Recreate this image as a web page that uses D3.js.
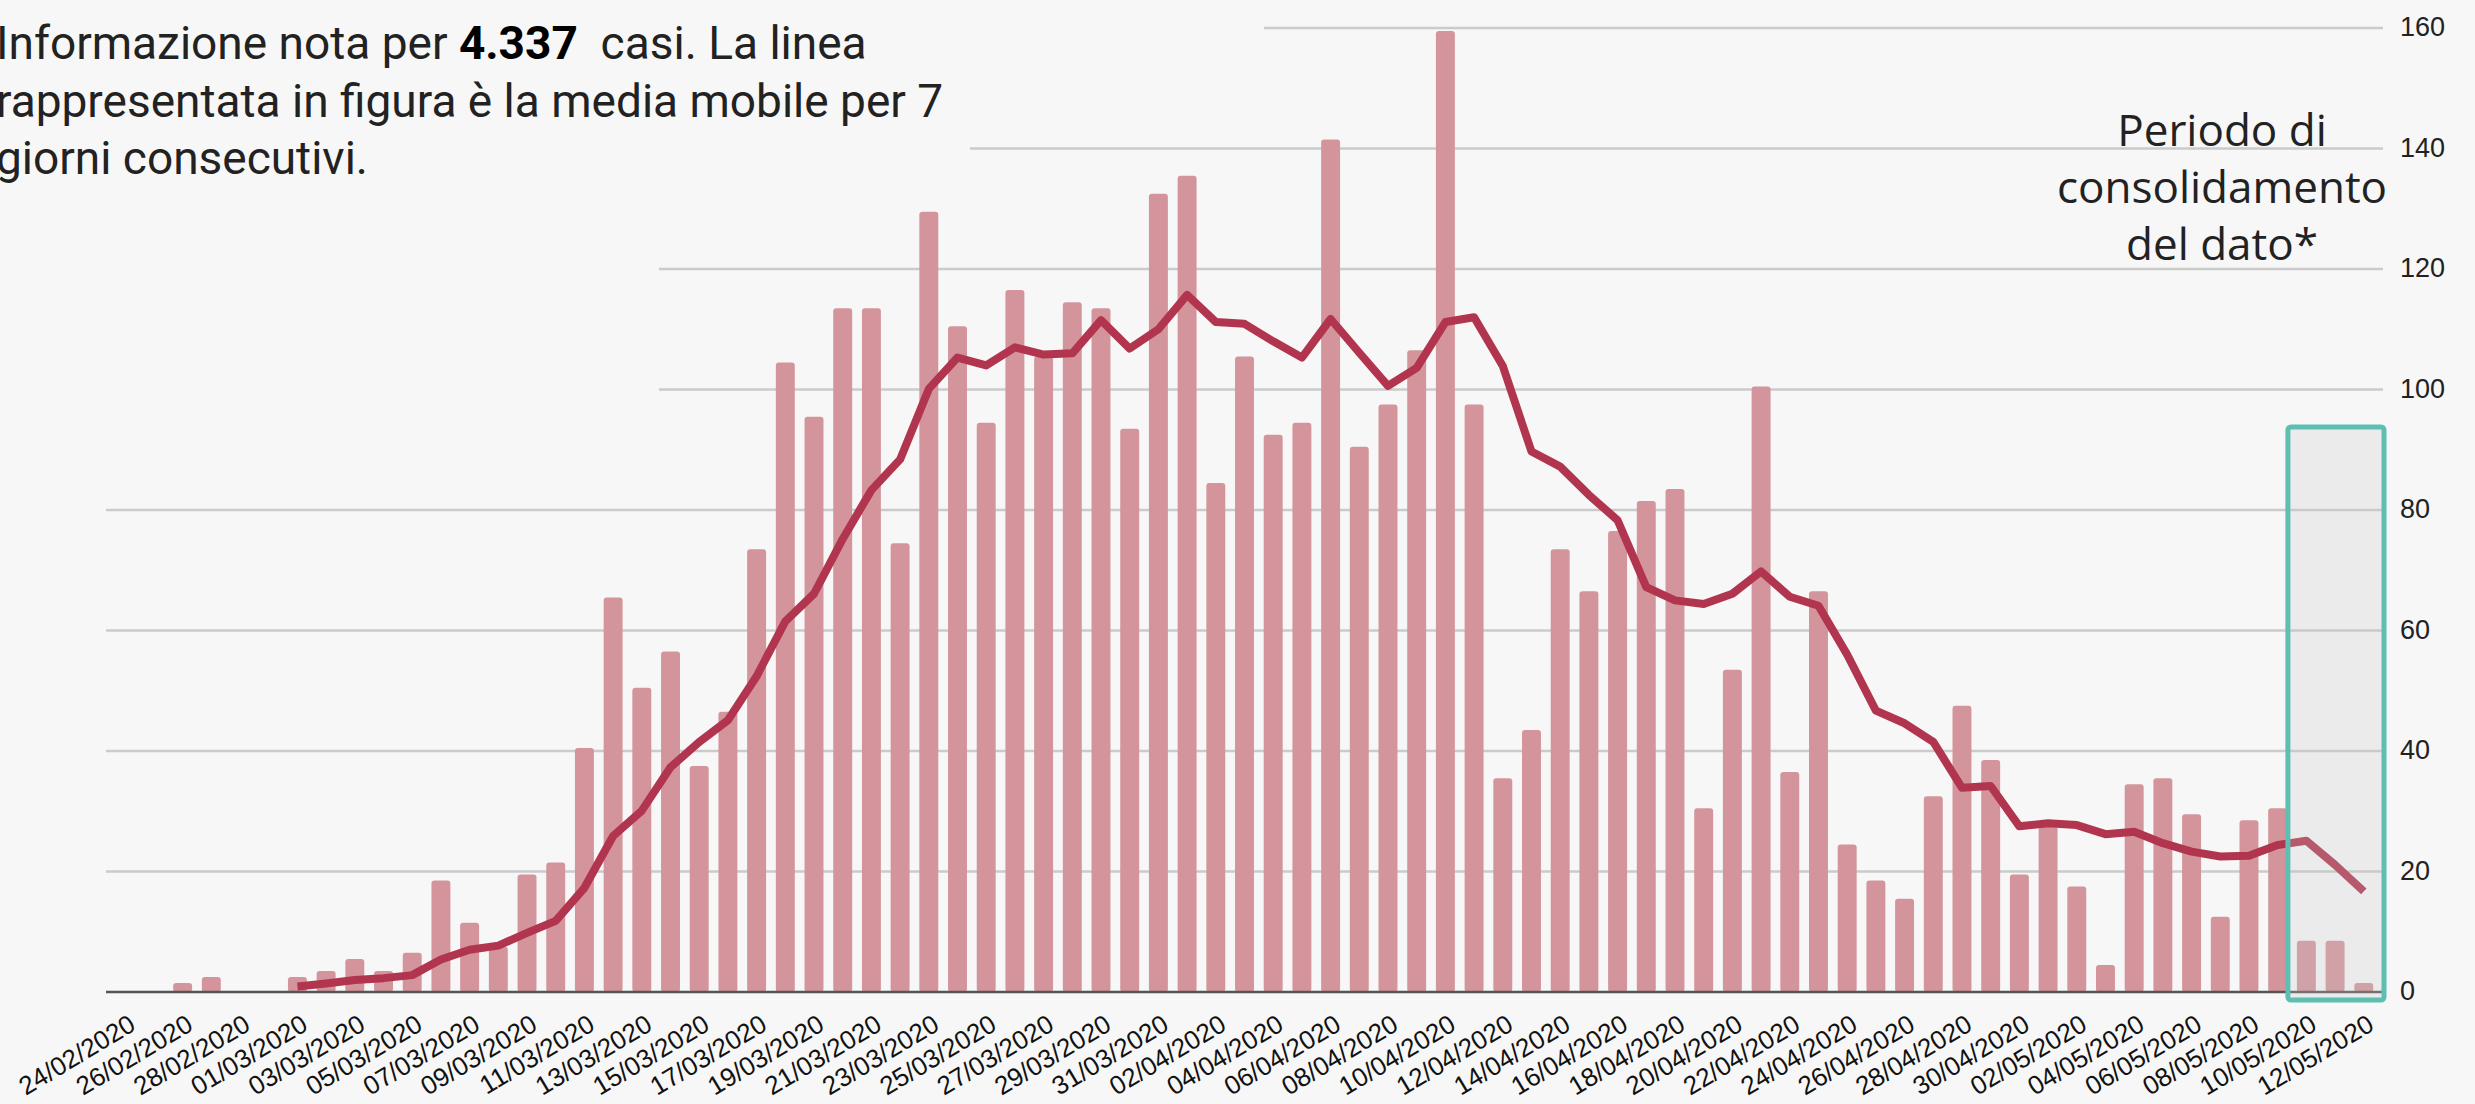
<!DOCTYPE html>
<meta charset="utf-8"/>
<head>
<script src="https://d3js.org/d3.v7.min.js"></script>
<style>
body { margin: 0; background: #f7f7f7; }
svg { display: block; background: #f7f7f7; }
.grid line { stroke: #cbcbcb; stroke-width: 2.5px; }
.mask { fill: #f7f7f7; }
.baseline { stroke: #555; stroke-width: 2.5px; }
.bar { fill: #d3959b; }
.avg { fill: none; stroke: #b2354f; stroke-width: 8px; stroke-linejoin: round; }
.box { fill: rgba(200, 200, 200, 0.25); stroke: #5cbfb1; stroke-width: 5px; }
.xlab { font-family: "Liberation Sans", Arial, sans-serif; font-size: 26px; fill: #111; }
.ylab { font-family: "Liberation Sans", Arial, sans-serif; font-size: 27px; fill: #222; }
.note { font-family: Roboto, sans-serif; font-size: 46px; fill: #222; }
.note .num { font-weight: bold; fill: #000; }
.cons { font-family: "Open Sans", sans-serif; font-size: 44px; fill: #222; }
</style>
</head>
<body>
<div id="chart"></div>
<script>

// casi giornalieri, 24/02/2020 -> 12/05/2020
var casi = [0, 0, 1, 2, 0, 0, 2, 3, 5, 3,
            6, 18, 11, 7, 19, 21, 40, 65, 50, 56,
            37, 46, 73, 104, 95, 113, 113, 74, 129, 110,
            94, 116, 105, 114, 113, 93, 132, 135, 84, 105,
            92, 94, 141, 90, 97, 106, 159, 97, 35, 43,
            73, 66, 76, 81, 83, 30, 53, 100, 36, 66,
            24, 18, 15, 32, 47, 38, 19, 27, 17, 4,
            34, 35, 29, 12, 28, 30, 8, 8, 1];

// media mobile 7 giorni, parte dal 01/03
var mediaMobile = [null, null, null, null, null, null, 0.9, 1.4, 2.0, 2.3,
                   2.8, 5.4, 7.0, 7.7, 9.8, 11.8, 17.3, 25.9, 30.1, 37.3,
                   41.5, 45.1, 52.4, 61.5, 66.1, 75.2, 83.3, 88.4, 100.1, 105.3,
                   104.0, 107.0, 105.8, 106.0, 111.5, 106.8, 110.0, 115.7, 111.2, 110.9,
                   108.0, 105.3, 111.7, 106.1, 100.6, 103.6, 111.2, 112.0, 103.9, 89.7,
                   87.2, 82.5, 78.3, 67.2, 65.0, 64.4, 66.1, 69.8, 65.6, 64.1,
                   56.0, 46.7, 44.6, 41.5, 33.9, 34.2, 27.5, 28.0, 27.7, 26.2,
                   26.6, 24.7, 23.3, 22.5, 22.6, 24.4, 25.1, 21.1, 16.7];

var giorni = d3.utcDay.range(Date.UTC(2020, 1, 24), Date.UTC(2020, 4, 13))
    .map(d3.utcFormat("%d/%m/%Y"));

var yTicks = [0, 20, 40, 60, 80, 100, 120, 140, 160];
var consolidamento = ["10/05/2020", "11/05/2020", "12/05/2020"];

var noteLines = [
  ["Informazione nota per ", "4.337", " \u00a0casi. La linea"],
  ["rappresentata in figura è la media mobile per 7"],
  ["giorni consecutivi."]
];
var consLines = ["Periodo di", "consolidamento", "del dato*"];

var outerWidth = 2475,
    outerHeight = 1104,
    plotLeft = 106, plotRight = 2383,
    plotTop = 28, plotBottom = 992;

var svg = d3.select("#chart").append("svg")
    .attr("width", outerWidth)
    .attr("height", outerHeight);

var x = d3.scaleBand()
    .domain(giorni)
    .range([plotLeft, plotRight])
    .padding(0.34);

var y = d3.scaleLinear()
    .domain([0, 160])
    .range([plotBottom, plotTop]);

// gridlines
svg.append("g").attr("class", "grid")
  .selectAll("line")
  .data(yTicks.filter(function(d) { return d > 0; }))
  .enter().append("line")
    .attr("x1", plotLeft).attr("x2", plotRight)
    .attr("y1", function(d) { return y(d); })
    .attr("y2", function(d) { return y(d); });

// the text blocks hide part of the upper gridlines
var masks = [[0, 0, 1264, 90], [0, 90, 970, 120], [0, 210, 659, 230]];
svg.selectAll(".mask").data(masks).enter().append("rect")
    .attr("class", "mask")
    .attr("x", function(d) { return d[0]; })
    .attr("y", function(d) { return d[1]; })
    .attr("width", function(d) { return d[2]; })
    .attr("height", function(d) { return d[3]; });

// bars
svg.append("g").selectAll("rect")
  .data(casi)
  .enter().append("rect")
    .attr("class", "bar")
    .attr("x", function(d, i) { return x(giorni[i]); })
    .attr("width", x.bandwidth())
    .attr("y", function(d) { return y(d) - 3; })
    .attr("height", function(d) { return d > 0 ? plotBottom - y(d) + 3 : 0; })
    .attr("rx", 3);

svg.append("line")
    .attr("class", "baseline")
    .attr("x1", plotLeft).attr("x2", plotRight)
    .attr("y1", plotBottom).attr("y2", plotBottom);

// moving average
var line = d3.line()
    .defined(function(d) { return d != null; })
    .x(function(d, i) { return x(giorni[i]) + x.bandwidth() / 2; })
    .y(function(d) { return y(d); });

svg.append("path")
    .attr("class", "avg")
    .attr("d", line(mediaMobile));

// consolidation box
var bx0 = x(consolidamento[0]) - 9,
    bx1 = plotRight + 1;
svg.append("rect")
    .attr("class", "box")
    .attr("x", bx0)
    .attr("y", 427)
    .attr("width", bx1 - bx0)
    .attr("height", 1000 - 427)
    .attr("rx", 3);

// x labels, every other day
svg.append("g").selectAll("text")
  .data(giorni.filter(function(d, i) { return i % 2 == 0; }))
  .enter().append("text")
    .attr("class", "xlab")
    .attr("text-anchor", "end")
    .attr("transform", function(d) {
      return "translate(" + (x(d) + x.bandwidth() / 2 + 12) + "," + 1029 + ") rotate(-31)";
    })
    .text(function(d) { return d; });

// y labels on the right
svg.append("g").selectAll("text")
  .data(yTicks)
  .enter().append("text")
    .attr("class", "ylab")
    .attr("x", 2400)
    .attr("y", function(d) { return y(d) - 1; })
    .attr("dominant-baseline", "central")
    .text(function(d) { return d; });

// note top left
var note = svg.append("g").attr("class", "note");
noteLines.forEach(function(parts, i) {
  var t = note.append("text").attr("x", -4).attr("y", 59 + i * 57.5);
  parts.forEach(function(p, j) {
    t.append("tspan").attr("class", j == 1 ? "num" : null).text(p);
  });
});

svg.append("g").attr("class", "cons")
  .selectAll("text")
  .data(consLines)
  .enter().append("text")
    .attr("x", 2222)
    .attr("y", function(d, i) { return 146 + i * 57; })
    .attr("text-anchor", "middle")
    .text(function(d) { return d; });

</script>
</body>
